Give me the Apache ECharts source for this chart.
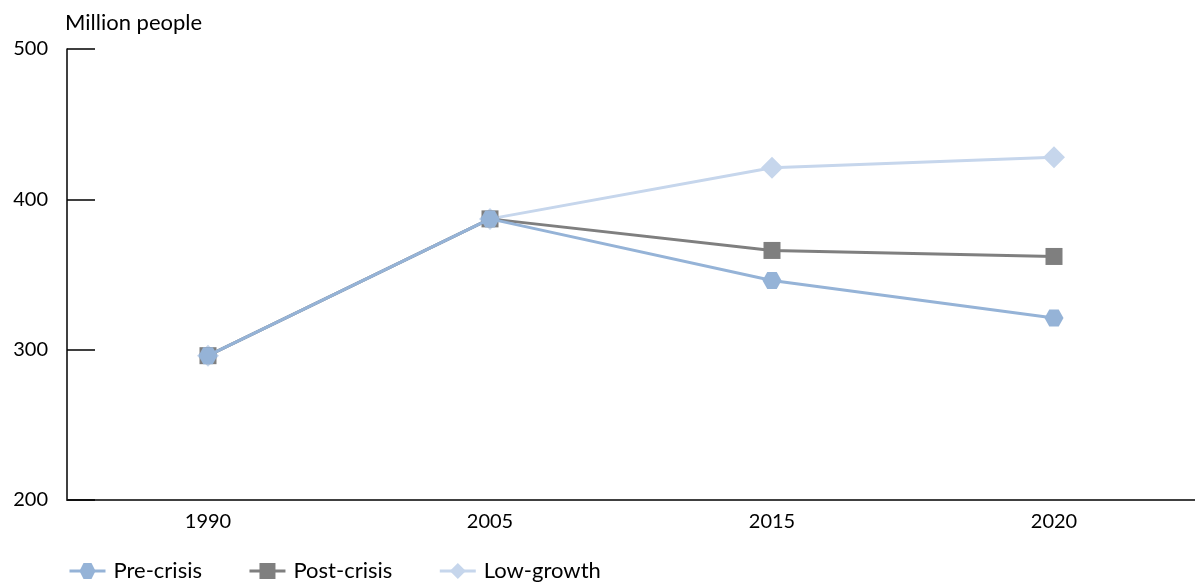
<!DOCTYPE html>
<html>
<head>
<meta charset="utf-8">
<script src="https://cdn.jsdelivr.net/npm/echarts@6/dist/echarts.min.js"></script>
<style>
html,body{margin:0;padding:0;background:#fff;}
#chart{width:1195px;height:583px;}
</style>
</head>
<body>
<div id="chart"></div>
<script>
const categories = ['1990', '2005', '2015', '2020'];
const preCrisis = [296, 387, 346, 321];
const postCrisis = [296, 387, 366, 362];
const lowGrowth = [296, 387, 421, 428];
const seriesNames = ['Pre-crisis', 'Post-crisis', 'Low-growth'];
const yTicks = [200, 300, 400, 500];
const yTitle = 'Million people';

const FONT = 'Lato';
const hexagon = 'path://M0,5 L3,0 L9,0 L12,5 L9,10 L3,10 Z';

const chart = echarts.init(document.getElementById('chart'));
chart.setOption({
  animation: false,
  backgroundColor: '#fff',
  textStyle: { fontFamily: FONT },
  grid: { left: 67, top: 49, width: 1132, height: 451, containLabel: false },
  legend: {
    data: seriesNames,
    left: 63, top: 555,
    itemWidth: 36, itemHeight: 20, itemGap: 46,
    lineStyle: { width: 3 },
    textStyle: { fontFamily: FONT, fontSize: 22, color: '#000', padding: [0, 0, 0, 3] }
  },
  xAxis: {
    type: 'category',
    data: categories,
    boundaryGap: true,
    axisLine: { lineStyle: { color: '#404040', width: 2 } },
    axisTick: { inside: true, length: 11, lineStyle: { color: '#404040', width: 1.5 } },
    axisLabel: { fontFamily: FONT, fontSize: 20, color: '#000', margin: 12 }
  },
  yAxis: {
    type: 'value',
    min: yTicks[0], max: yTicks[yTicks.length - 1], interval: 100,
    name: yTitle,
    nameLocation: 'end',
    nameGap: 15,
    nameTextStyle: { fontFamily: FONT, fontSize: 22, color: '#000', align: 'left', padding: [0, 0, 0, -2] },
    splitLine: { show: false },
    axisLine: { show: true, lineStyle: { color: '#000', width: 1.5 } },
    axisTick: { show: true, inside: true, length: 28, lineStyle: { color: '#000', width: 1.5 } },
    axisLabel: { fontFamily: FONT, fontSize: 20, color: '#000', margin: 19 }
  },
  series: [
    {
      name: seriesNames[0], type: 'line', data: preCrisis, z: 5,
      symbol: hexagon, symbolSize: [19, 17],
      lineStyle: { color: '#95B3D7', width: 3 },
      itemStyle: { color: '#95B3D7' }
    },
    {
      name: seriesNames[1], type: 'line', data: postCrisis, z: 4,
      symbol: 'rect', symbolSize: 17,
      lineStyle: { color: '#7F7F7F', width: 3 },
      itemStyle: { color: '#7F7F7F' }
    },
    {
      name: seriesNames[2], type: 'line', data: lowGrowth, z: 3,
      symbol: 'diamond', symbolSize: 22,
      lineStyle: { color: '#C6D6EC', width: 3 },
      itemStyle: { color: '#C6D6EC' }
    }
  ]
});
</script>
</body>
</html>
